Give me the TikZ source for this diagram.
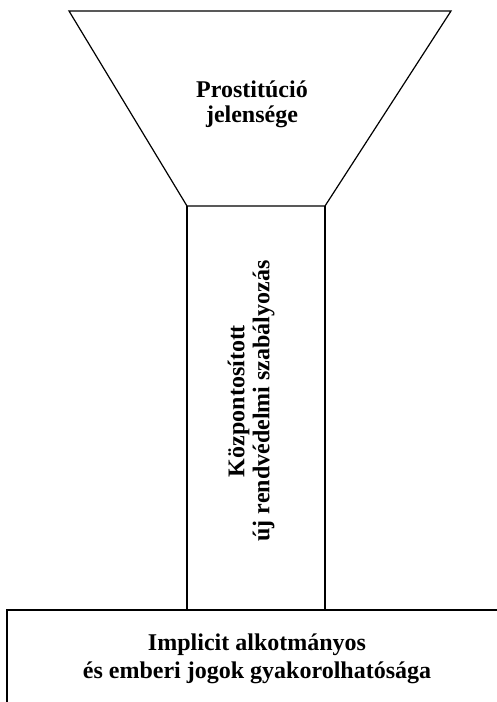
\documentclass[tikz,border=0pt]{standalone}
\usepackage{fontspec}
\setmainfont{Liberation Serif}
\usetikzlibrary{positioning, calc}

\begin{document}
\begin{tikzpicture}[
  x=0.5pt, y=-0.5pt,
  shape line/.style={draw=black, line width=0.6pt},
  lbl/.style={font=\fontsize{12}{12.5}\selectfont\bfseries, align=center, inner sep=0pt},
  base lbl/.style={font=\fontsize{12}{14}\selectfont\bfseries, align=center, inner sep=0pt}
]
  \useasboundingbox (0,0) rectangle (497,702);

  % Corners
  \coordinate (funnelTL) at (69,11);
  \coordinate (funnelTR) at (451,11);
  \coordinate (stemTL) at (187,206);
  \coordinate (stemTR) at (325,206);
  \coordinate (stemBL) at (187,610);
  \coordinate (stemBR) at (325,610);
  \coordinate (baseL) at (7,610);
  \coordinate (baseR) at (497,610);
  \coordinate (baseEnd) at (7,702);

  % Shapes
  \draw[shape line] (funnelTL) -- (funnelTR) -- (stemTR) -- (stemTL) -- cycle;
  \draw[shape line] (stemTL) -- (stemBL);
  \draw[shape line] (stemTR) -- (stemBR);
  \draw[shape line] (baseR) -- (baseL) -- (baseEnd);

  % Nodes
  \node[lbl] (funnel) at (252,104) {Prostitúció\\jelensége};
  \node[lbl, rotate=90] (stem) at (251,401) {Központosított\\új rendvédelmi szabályozás};
  \node[base lbl] (base) at (257,659) {Implicit alkotmányos\\és emberi jogok gyakorolhatósága};
\end{tikzpicture}
\end{document}
